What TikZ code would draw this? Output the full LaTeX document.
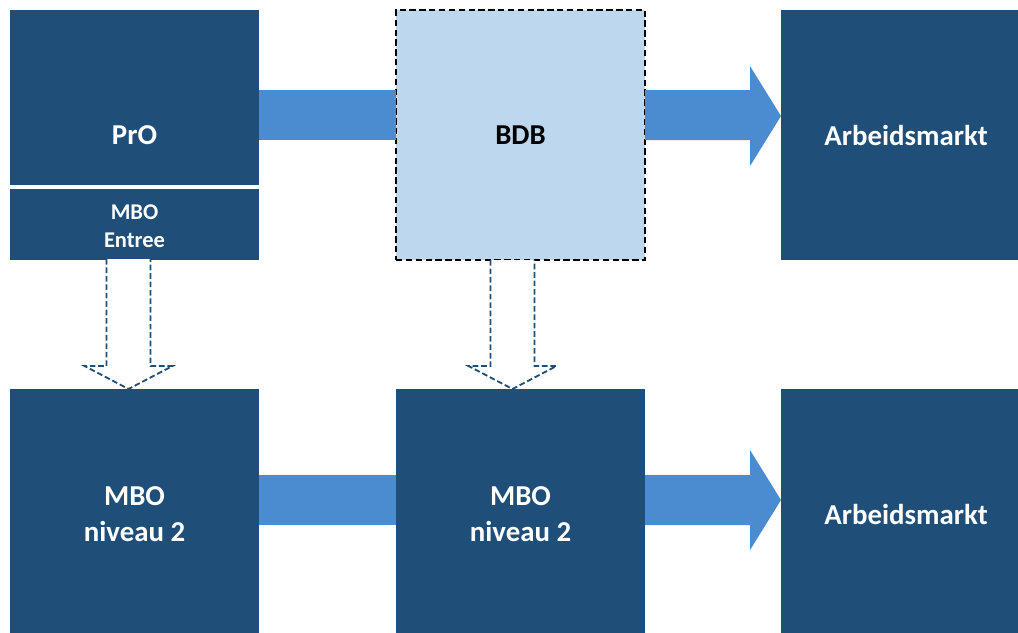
\documentclass[tikz,border=0pt]{standalone}
\usepackage{fontspec}
\setmainfont{Carlito}
\usetikzlibrary{calc}
\definecolor{donker}{HTML}{1F4E79}
\definecolor{licht}{HTML}{BDD7EE}
\definecolor{pijl}{HTML}{4A8CCF}
\tikzset{
  blok/.style={rectangle, fill=donker, text=white, inner sep=0pt, outer sep=0pt, anchor=north west,
    font=\bfseries\fontsize{20.5}{25.5}\selectfont, align=center,
    minimum width=6.25cm, minimum height=6.25cm},
  lichtblok/.style={blok, fill=licht, text=black, draw=black, line width=1.4pt,
    dash pattern=on 4.5pt off 2.5pt},
  kleinblok/.style={blok, font=\bfseries\fontsize{16}{20}\selectfont,
    minimum width=6.225cm, minimum height=1.8cm},
  flow/.style={fill=pijl},
  hol/.style={draw=donker, fill=white, line width=1.3pt, dash pattern=on 4pt off 2pt}
}
\begin{document}
\begin{tikzpicture}[x=0.025cm, y=-0.025cm]
\useasboundingbox (0,0) rectangle (1018,632);
% bovenste rij
\node[blok, minimum width=6.225cm] (pro) at (10,10) {PrO};
\node[kleinblok] (entree) at (10,187) {\raisebox{-3.5pt}[\height][\depth]{\begin{tabular}{@{}c@{}}MBO\\Entree\end{tabular}}};
\draw[white, line width=2.4pt] (entree.north west) -- (entree.north east);
\node[lichtblok, minimum width=6.225cm] (bdb) at (396,10) {BDB};
\node[blok] (arbeid1) at (781,10) {Arbeidsmarkt};
% onderste rij
\node[blok, minimum width=6.225cm] (mbo1) at (10,389) {MBO\\niveau 2};
\node[blok, minimum width=6.225cm] (mbo2) at (396,389) {MBO\\niveau 2};
\node[blok] (arbeid2) at (781,389) {Arbeidsmarkt};
% brede pijlen
\fill[flow] ($(pro.east)+(0,-45)$) rectangle ($(bdb.west)+(0,5)$);
\fill[flow] ($(bdb.east)+(0,-45)$) -- ($(arbeid1.west)+(-31,-45)$) -- ($(arbeid1.west)+(-31,-69)$)
  -- ($(arbeid1.west)+(0,-19)$) -- ($(arbeid1.west)+(-31,31)$) -- ($(arbeid1.west)+(-31,5)$)
  -- ($(bdb.east)+(0,5)$) -- cycle;
\fill[flow] ($(mbo1.east)+(0,-39)$) rectangle ($(mbo2.west)+(0,11)$);
\fill[flow] ($(mbo2.east)+(0,-39)$) -- ($(arbeid2.west)+(-31,-39)$) -- ($(arbeid2.west)+(-31,-64)$)
  -- ($(arbeid2.west)+(0,-14)$) -- ($(arbeid2.west)+(-31,36)$) -- ($(arbeid2.west)+(-31,11)$)
  -- ($(mbo2.east)+(0,11)$) -- cycle;
% holle pijlen omlaag
\coordinate (t1) at ($(mbo1.north)+(-6,0)$);
\coordinate (t2) at ($(mbo2.north)+(-8,0)$);
\draw[hol] (entree.south -| {$(t1)+(-22,0)$}) -- ($(t1)+(-22,-23)$) -- ($(t1)+(-44,-23)$) -- (t1)
  -- ($(t1)+(44,-23)$) -- ($(t1)+(22,-23)$) -- (entree.south -| {$(t1)+(22,0)$});
\draw[hol] (bdb.south -| {$(t2)+(-22,0)$}) -- ($(t2)+(-22,-23)$) -- ($(t2)+(-44,-23)$) -- (t2)
  -- ($(t2)+(44,-23)$) -- ($(t2)+(22,-23)$) -- (bdb.south -| {$(t2)+(22,0)$});
\end{tikzpicture}
\end{document}
